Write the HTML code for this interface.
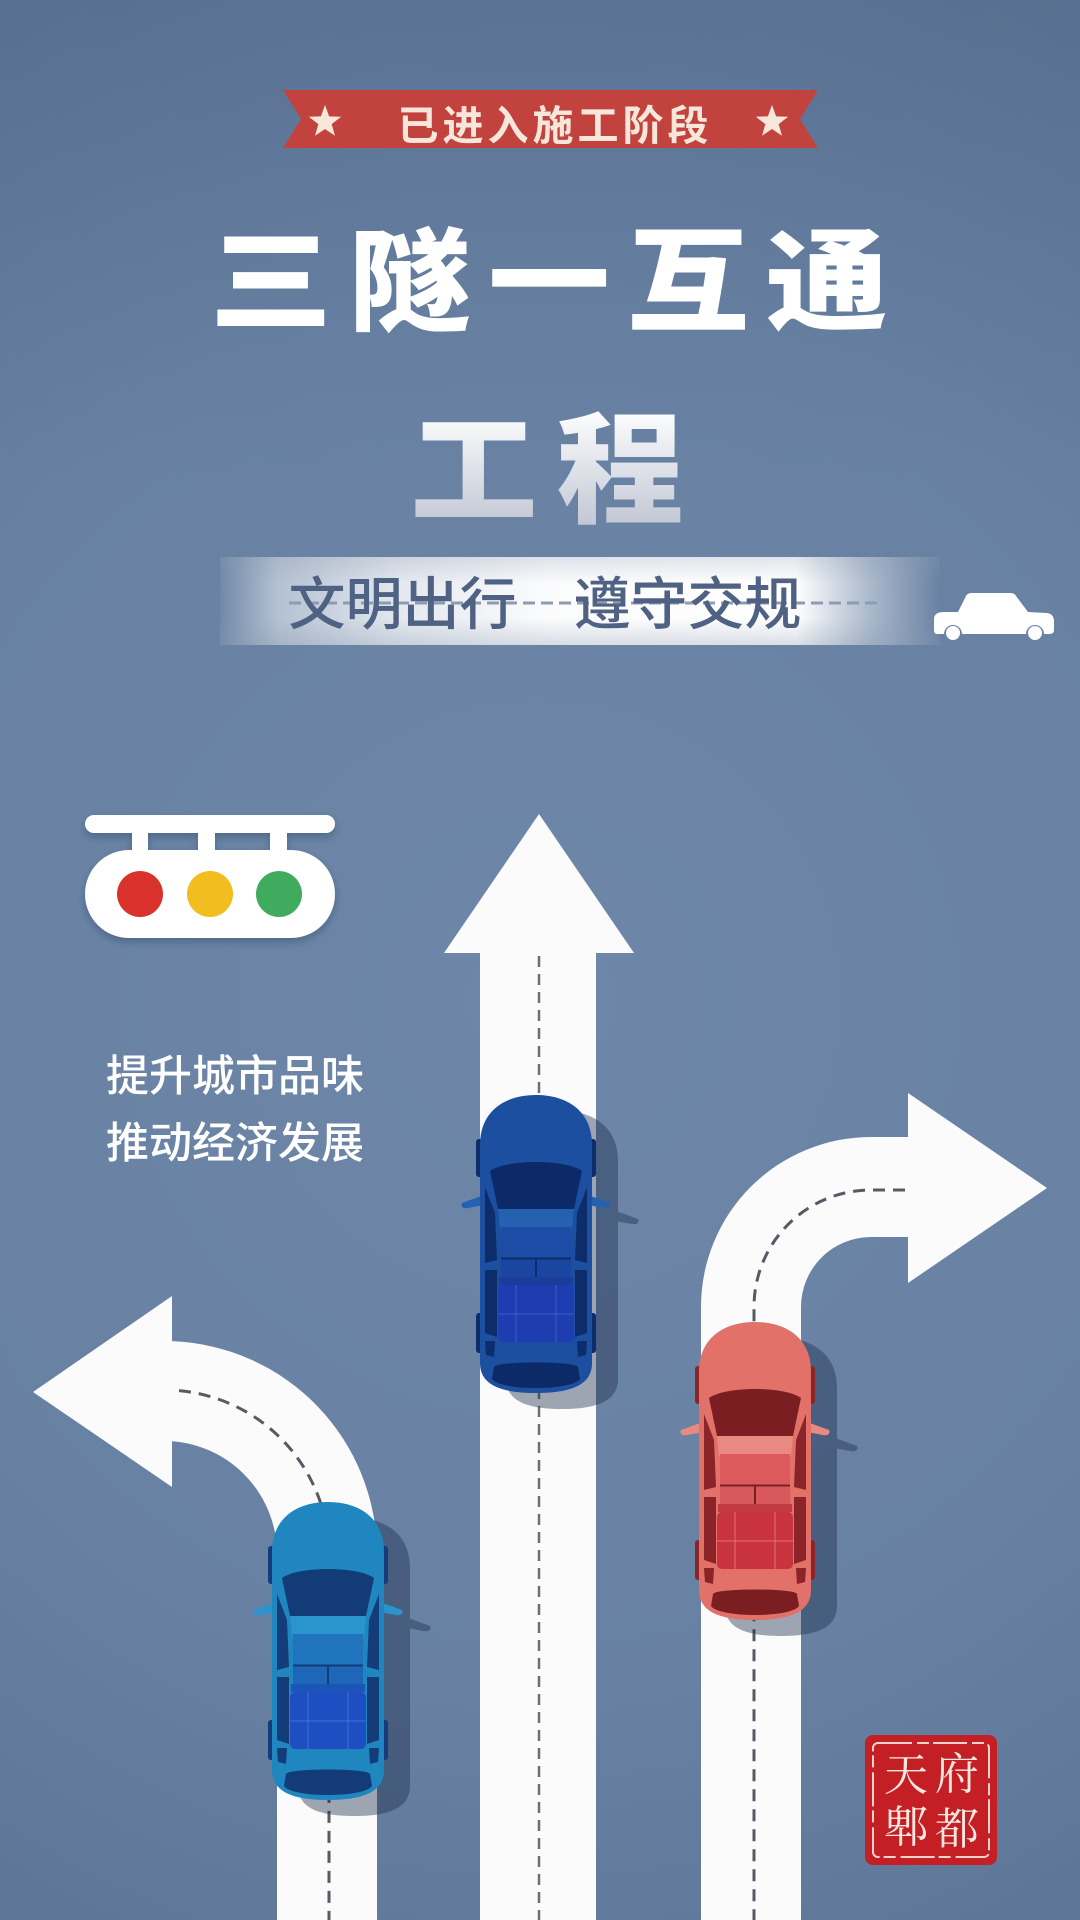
<!DOCTYPE html>
<html>
<head>
<meta charset="utf-8">
<style>
html,body{margin:0;padding:0;background:#6a82a4;}
svg{display:block;}
.sans{font-family:"Liberation Sans","Noto Sans CJK SC",sans-serif;}
.serif{font-family:"Liberation Serif","Noto Serif CJK SC",serif;}
</style>
</head>
<body>
<svg width="1080" height="1920" viewBox="0 0 1080 1920" xmlns="http://www.w3.org/2000/svg">
  <defs>
    <radialGradient id="bg" cx="540" cy="1000" r="1150" gradientUnits="userSpaceOnUse">
      <stop offset="0" stop-color="#6e87a9"/>
      <stop offset="0.6" stop-color="#6881a3"/>
      <stop offset="1" stop-color="#5b7294"/>
    </radialGradient>
    <linearGradient id="topdark" x1="0" y1="0" x2="0" y2="1">
      <stop offset="0" stop-color="#4f6586" stop-opacity="0.25"/>
      <stop offset="0.25" stop-color="#4f6586" stop-opacity="0"/>
      <stop offset="1" stop-color="#4f6586" stop-opacity="0"/>
    </linearGradient>
    <linearGradient id="band" x1="220" y1="0" x2="940" y2="0" gradientUnits="userSpaceOnUse">
      <stop offset="0" stop-color="#ffffff" stop-opacity="0.05"/>
      <stop offset="0.08" stop-color="#ffffff" stop-opacity="0.5"/>
      <stop offset="0.25" stop-color="#ffffff" stop-opacity="0.82"/>
      <stop offset="0.45" stop-color="#ffffff" stop-opacity="0.97"/>
      <stop offset="0.8" stop-color="#ffffff" stop-opacity="1"/>
      <stop offset="0.9" stop-color="#ffffff" stop-opacity="0.45"/>
      <stop offset="1" stop-color="#ffffff" stop-opacity="0"/>
    </linearGradient>
    <linearGradient id="bandv" x1="0" y1="557" x2="0" y2="645" gradientUnits="userSpaceOnUse">
      <stop offset="0" stop-color="#8796ad" stop-opacity="0.25"/>
      <stop offset="0.3" stop-color="#8796ad" stop-opacity="0"/>
      <stop offset="0.7" stop-color="#8796ad" stop-opacity="0"/>
      <stop offset="1" stop-color="#8796ad" stop-opacity="0.3"/>
    </linearGradient>
    <linearGradient id="gc" x1="0" y1="408" x2="0" y2="528" gradientUnits="userSpaceOnUse">
      <stop offset="0" stop-color="#ffffff"/>
      <stop offset="1" stop-color="#c0c6d3"/>
    </linearGradient>
    <filter id="ds" x="-20%" y="-20%" width="140%" height="160%">
      <feDropShadow dx="0" dy="4" stdDeviation="4" flood-color="#24344f" flood-opacity="0.35"/>
    </filter>
  </defs>

  <!-- background -->
  <rect x="0" y="0" width="1080" height="1920" fill="url(#bg)"/>
  <rect x="0" y="0" width="1080" height="1920" fill="url(#topdark)"/>

  <!-- banner -->
  <polygon points="283,90 818,90 800,119 818,148 283,148 301,119" fill="#c2433e"/>
  <g fill="#f6e7da">
    <polygon transform="translate(325,122)" points="0,-17 4.11,-5.66 16.17,-5.25 6.66,2.16 9.99,13.75 0,7 -9.99,13.75 -6.66,2.16 -16.17,-5.25 -4.11,-5.66"/>
    <polygon transform="translate(772,122)" points="0,-17 4.11,-5.66 16.17,-5.25 6.66,2.16 9.99,13.75 0,7 -9.99,13.75 -6.66,2.16 -16.17,-5.25 -4.11,-5.66"/>
  </g>
  <text class="sans" x="418 463 508 553 598 643 688" y="140" font-size="41" font-weight="700" fill="#f6e7da" text-anchor="middle">已进入施工阶段</text>

  <!-- main title -->
  <g transform="translate(549,0) scale(1.1,1) translate(-549,0)">
    <text class="sans" x="296.3 422.6 549 675.4 801.7" y="321" font-size="111" font-weight="900" fill="#ffffff" text-anchor="middle">三隧一互通</text>
  </g>
  <g transform="translate(548,0) scale(1.06,1) translate(-548,0)">
    <text class="sans" x="478 616" y="513" font-size="120" font-weight="900" fill="url(#gc)" text-anchor="middle">工程</text>
  </g>

  <!-- slogan band -->
  <rect x="220" y="557" width="720" height="88" fill="url(#band)"/>
  <rect x="220" y="557" width="720" height="88" fill="url(#bandv)"/>
  <line x1="289" y1="603" x2="880" y2="603" stroke="#8d9cb2" stroke-width="3" stroke-dasharray="12 6"/>
  <text class="sans" x="317 374 431 488 602 659 716 773" y="624" font-size="57" font-weight="500" fill="#4f6283" text-anchor="middle">文明出行遵守交规</text>

  <!-- small white car -->
  <g fill="#ffffff">
    <path d="M934,630 L934,619 C934,614 938,612 944,612 L958,612 L966,596 C967,594 969,593 972,593 L1010,593 C1013,593 1015,594 1016,596 L1028,612 L1046,613 C1051,613 1054,616 1054,621 L1054,630 C1054,633 1052,634 1049,634 L1044,634 A9,9 0 0 0 1026,634 L962,634 A9,9 0 0 0 944,634 L938,634 C935,634 934,633 934,630 Z"/>
    <circle cx="953" cy="633" r="7"/>
    <circle cx="1035" cy="633" r="7"/>
  </g>

  <!-- traffic light -->
  <g filter="url(#ds)" fill="#ffffff">
    <rect x="85" y="815" width="250" height="18" rx="9"/>
    <rect x="132" y="830" width="16" height="24"/>
    <rect x="198" y="830" width="17" height="24"/>
    <rect x="270" y="830" width="17" height="24"/>
    <rect x="85" y="850" width="250" height="88" rx="44"/>
  </g>
  <circle cx="140" cy="894" r="23" fill="#d9312b"/>
  <circle cx="210" cy="894" r="23" fill="#f1bd1f"/>
  <circle cx="279" cy="894" r="23" fill="#40ab5f"/>

  <!-- side text -->
  <text class="sans" x="106" y="1091" font-size="43" font-weight="500" fill="#ffffff">提升城市品味</text>
  <text class="sans" x="106" y="1158" font-size="43" font-weight="500" fill="#ffffff">推动经济发展</text>

  <!-- lanes -->
  <g fill="#fbfbfc">
    <path d="M480,1920 L480,953 L444,953 L539,814 L634,953 L596,953 L596,1920 Z"/>
    <path d="M701,1920 L701,1307 A170,170 0 0 1 871,1137 L908,1137 L908,1093 L1047,1188 L908,1283 L908,1237 L871,1237 A70,70 0 0 0 801,1307 L801,1920 Z"/>
    <path d="M377,1920 L377,1554 A213,213 0 0 0 172,1341.15 L172,1296 L33,1392 L172,1487 L172,1441.3 A113,113 0 0 1 277,1554 L277,1920 Z"/>
  </g>
  <!-- lane dashes -->
  <g fill="none">
    <line x1="539" y1="956" x2="539" y2="1920" stroke="#6a6f78" stroke-width="2.5" stroke-dasharray="11 7"/>
    <path d="M905,1190 L871,1190 A117,117 0 0 0 754,1307 L754,1920" stroke="#555b64" stroke-width="3" stroke-dasharray="12 8"/>
    <path d="M179,1390.6 A165,165 0 0 1 329,1554 L329,1920" stroke="#555b64" stroke-width="3" stroke-dasharray="12 8"/>
  </g>

  <!-- car shadows -->
  <g fill="#1c2d4d" fill-opacity="0.42">
    <path transform="translate(502,1111)" d="M4,50 C4,15 30,0 60,0 C90,0 116,15 116,50 L116,268 C116,290 95,298 60,298 C25,298 4,290 4,268 Z M114,100 L136,108 C138,112 134,114 130,113 L112,110 Z"/>
    <path transform="translate(721,1338)" d="M4,50 C4,15 30,0 60,0 C90,0 116,15 116,50 L116,268 C116,290 95,298 60,298 C25,298 4,290 4,268 Z M114,100 L136,108 C138,112 134,114 130,113 L112,110 Z"/>
    <path transform="translate(294,1518)" d="M4,50 C4,15 30,0 60,0 C90,0 116,15 116,50 L116,268 C116,290 95,298 60,298 C25,298 4,290 4,268 Z M114,100 L136,108 C138,112 134,114 130,113 L112,110 Z"/>
  </g>

  <!-- blue car -->
  <g transform="translate(476,1095)">
    <rect x="0" y="44" width="8" height="38" rx="3" fill="#0d2c6a"/>
    <rect x="112" y="44" width="8" height="38" rx="3" fill="#0d2c6a"/>
    <rect x="0" y="218" width="8" height="40" rx="3" fill="#0d2c6a"/>
    <rect x="112" y="218" width="8" height="40" rx="3" fill="#0d2c6a"/>
    <path d="M8,100 L-14,108 C-16,112 -12,114 -8,113 L8,110 Z M112,100 L134,108 C136,112 132,114 128,113 L112,110 Z" fill="#2660b0"/>
    <path d="M4,50 C4,15 30,0 60,0 C90,0 116,15 116,50 L116,268 C116,290 95,298 60,298 C25,298 4,290 4,268 Z" fill="#1c4f9f"/>
    <path d="M14,76 C30,64 90,64 106,76 L98,114 L22,114 Z" fill="#0b2a67"/>
    <polygon points="22,114 98,114 96,134 24,134" fill="#2660b0"/>
    <g fill="#0d2c6a">
      <polygon points="9,92 19,118 21,165 9,168"/>
      <polygon points="9,175 21,175 21,242 9,238"/>
      <polygon points="9,246 19,246 18,262 10,260"/>
      <polygon points="111,92 101,118 99,165 111,168"/>
      <polygon points="111,175 99,175 99,242 111,238"/>
      <polygon points="111,246 101,246 102,262 110,260"/>
    </g>
    <rect x="25" y="132" width="70" height="32" fill="#1d4ca6"/>
    <rect x="25" y="164" width="70" height="18" fill="#1a46a2"/>
    <line x1="25" y1="163.5" x2="95" y2="163.5" stroke="#0d2c6a" stroke-width="2"/>
    <line x1="60" y1="163" x2="60" y2="182" stroke="#0d2c6a" stroke-width="2"/>
    <rect x="23" y="182" width="74" height="8" fill="#1a3d9a"/>
    <rect x="22" y="190" width="76" height="57" rx="5" fill="#1e3db0"/>
    <g stroke="#4d6ed0" stroke-width="1" stroke-opacity="0.6">
      <line x1="40" y1="190" x2="40" y2="247"/><line x1="80" y1="190" x2="80" y2="247"/><line x1="22" y1="219" x2="98" y2="219"/>
    </g>
    <path d="M18,272 C20,266 100,266 102,272 L104,284 C96,296 24,296 16,284 Z" fill="#0b2a67"/>
  </g>

  <!-- red car -->
  <g transform="translate(695,1322)">
    <rect x="0" y="44" width="8" height="38" rx="3" fill="#8c2528"/>
    <rect x="112" y="44" width="8" height="38" rx="3" fill="#8c2528"/>
    <rect x="0" y="218" width="8" height="40" rx="3" fill="#8c2528"/>
    <rect x="112" y="218" width="8" height="40" rx="3" fill="#8c2528"/>
    <path d="M8,100 L-14,108 C-16,112 -12,114 -8,113 L8,110 Z M112,100 L134,108 C136,112 132,114 128,113 L112,110 Z" fill="#e98a82"/>
    <path d="M4,50 C4,15 30,0 60,0 C90,0 116,15 116,50 L116,268 C116,290 95,298 60,298 C25,298 4,290 4,268 Z" fill="#e2716a"/>
    <path d="M14,76 C30,64 90,64 106,76 L98,114 L22,114 Z" fill="#7b1e22"/>
    <polygon points="22,114 98,114 96,134 24,134" fill="#e98a82"/>
    <g fill="#8a2428">
      <polygon points="9,92 19,118 21,165 9,168"/>
      <polygon points="9,175 21,175 21,242 9,238"/>
      <polygon points="9,246 19,246 18,262 10,260"/>
      <polygon points="111,92 101,118 99,165 111,168"/>
      <polygon points="111,175 99,175 99,242 111,238"/>
      <polygon points="111,246 101,246 102,262 110,260"/>
    </g>
    <rect x="25" y="132" width="70" height="32" fill="#dc5a5c"/>
    <rect x="25" y="164" width="70" height="18" fill="#d9585b"/>
    <line x1="25" y1="163.5" x2="95" y2="163.5" stroke="#7b1e22" stroke-width="2"/>
    <line x1="60" y1="163" x2="60" y2="182" stroke="#7b1e22" stroke-width="2"/>
    <rect x="23" y="182" width="74" height="8" fill="#c23a42"/>
    <rect x="22" y="190" width="76" height="57" rx="5" fill="#c8333e"/>
    <g stroke="#ec8a8a" stroke-width="1" stroke-opacity="0.7">
      <line x1="40" y1="190" x2="40" y2="247"/><line x1="80" y1="190" x2="80" y2="247"/><line x1="22" y1="219" x2="98" y2="219"/>
    </g>
    <path d="M18,272 C20,266 100,266 102,272 L104,284 C96,296 24,296 16,284 Z" fill="#7b1e22"/>
  </g>

  <!-- teal car -->
  <g transform="translate(268,1502)">
    <rect x="0" y="44" width="8" height="38" rx="3" fill="#133c78"/>
    <rect x="112" y="44" width="8" height="38" rx="3" fill="#133c78"/>
    <rect x="0" y="218" width="8" height="40" rx="3" fill="#133c78"/>
    <rect x="112" y="218" width="8" height="40" rx="3" fill="#133c78"/>
    <path d="M8,100 L-14,108 C-16,112 -12,114 -8,113 L8,110 Z M112,100 L134,108 C136,112 132,114 128,113 L112,110 Z" fill="#2a95cc"/>
    <path d="M4,50 C4,15 30,0 60,0 C90,0 116,15 116,50 L116,268 C116,290 95,298 60,298 C25,298 4,290 4,268 Z" fill="#1f86c0"/>
    <path d="M14,76 C30,64 90,64 106,76 L98,114 L22,114 Z" fill="#123b77"/>
    <polygon points="22,114 98,114 96,134 24,134" fill="#2a95cc"/>
    <g fill="#133c78">
      <polygon points="9,92 19,118 21,165 9,168"/>
      <polygon points="9,175 21,175 21,242 9,238"/>
      <polygon points="9,246 19,246 18,262 10,260"/>
      <polygon points="111,92 101,118 99,165 111,168"/>
      <polygon points="111,175 99,175 99,242 111,238"/>
      <polygon points="111,246 101,246 102,262 110,260"/>
    </g>
    <rect x="25" y="132" width="70" height="32" fill="#1f74bd"/>
    <rect x="25" y="164" width="70" height="18" fill="#1d66b8"/>
    <line x1="25" y1="163.5" x2="95" y2="163.5" stroke="#123b77" stroke-width="2"/>
    <line x1="60" y1="163" x2="60" y2="182" stroke="#123b77" stroke-width="2"/>
    <rect x="23" y="182" width="74" height="8" fill="#1b55b5"/>
    <rect x="22" y="190" width="76" height="57" rx="5" fill="#1e4fc2"/>
    <g stroke="#5a86dc" stroke-width="1" stroke-opacity="0.6">
      <line x1="40" y1="190" x2="40" y2="247"/><line x1="80" y1="190" x2="80" y2="247"/><line x1="22" y1="219" x2="98" y2="219"/>
    </g>
    <path d="M18,272 C20,266 100,266 102,272 L104,284 C96,296 24,296 16,284 Z" fill="#123b77"/>
  </g>

  <!-- seal -->
  <rect x="865" y="1735" width="132" height="130" rx="8" fill="#c41f25"/>
  <rect x="873" y="1743" width="116" height="114" rx="5" fill="none" stroke="#f2d4cd" stroke-width="2" stroke-dasharray="34 5 12 4"/>
  <g class="serif" font-size="44" fill="#f8e8e0" text-anchor="middle">
    <text x="906" y="1790">天</text>
    <text x="957" y="1789">府</text>
    <text x="906" y="1842">郫</text>
    <text x="957" y="1844">都</text>
  </g>
</svg>
</body>
</html>
